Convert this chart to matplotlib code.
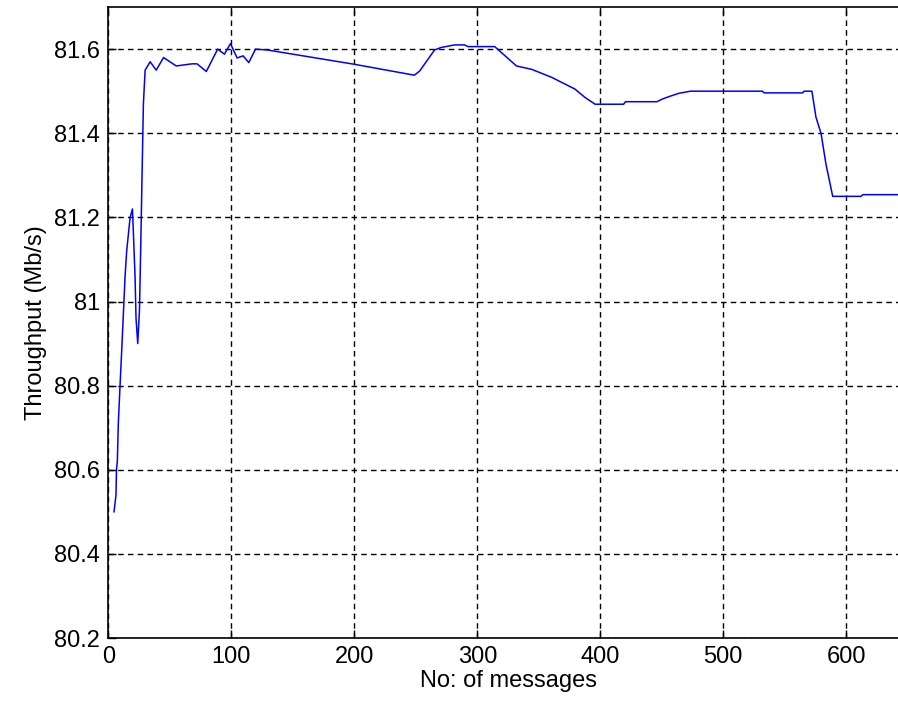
import matplotlib
matplotlib.use("Agg")
import matplotlib.pyplot as plt

plt.rcParams['font.family'] = ['Liberation Sans', 'DejaVu Sans']

# throughput vs number of messages
messages = [4.5, 6.1, 6.5, 7.2, 8.0, 9.4, 10.7, 12.1, 13.5, 14.8, 16.2, 17.6, 19.5,
            20.3, 21.6, 22.4, 23.8, 25.2, 26.3, 27.3, 28.4, 29.8, 33.9, 38.8, 44.8,
            55.1, 67.9, 72.0, 79.6, 88.8, 94.3, 99.2, 104.6, 109.5, 114.1, 119.6,
            129.1, 199.9, 248.8, 253.1, 265.2, 270.6, 281.5, 289.7, 292.4, 314.1,
            331.8, 344.1, 360.4, 379.4, 387.6, 395.8, 418.9, 420.5, 446.1, 450.2,
            455.7, 463.9, 473.3, 531.8, 533.2, 564.5, 565.8, 572.1, 575.4, 579.5,
            583.5, 589.0, 612.1, 613.5, 650.0]
throughput = [80.50, 80.54, 80.60, 80.62, 80.71, 80.80, 80.88, 80.97, 81.06, 81.12,
              81.16, 81.20, 81.22, 81.16, 81.06, 80.96, 80.90, 80.98, 81.14, 81.30,
              81.47, 81.55, 81.57, 81.55, 81.58, 81.56, 81.565, 81.565, 81.547, 81.60,
              81.588, 81.613, 81.579, 81.584, 81.568, 81.60, 81.598, 81.564, 81.538,
              81.548, 81.598, 81.604, 81.61, 81.61, 81.606, 81.606, 81.56, 81.552,
              81.533, 81.505, 81.485, 81.469, 81.469, 81.475, 81.475, 81.481, 81.487,
              81.495, 81.50, 81.50, 81.496, 81.496, 81.50, 81.50, 81.438, 81.40,
              81.327, 81.25, 81.25, 81.254, 81.254]

xticks = [0, 100, 200, 300, 400, 500, 600]
yticks = [80.2, 80.4, 80.6, 80.8, 81.0, 81.2, 81.4, 81.6]
ylabels = ['80.2', '80.4', '80.6', '80.8', '81', '81.2', '81.4', '81.6']

fig = plt.figure(figsize=(8.98, 7.06), dpi=100)
fig.patch.set_facecolor('white')
# right edge sits just past the picture, the reference is cropped there
ax = fig.add_axes([0.1208, 0.0963, 0.890, 0.8937])

ax.plot(messages, throughput, color='#0000ff', lw=1.1)

ax.set_xlim(0, 650)
ax.set_ylim(80.2, 81.7)
ax.set_xticks(xticks)
ax.set_yticks(yticks)
ax.set_yticklabels(ylabels)
ax.grid(True, color='black', linestyle=(0, (4, 3)), lw=1)
ax.tick_params(direction='in', length=6, labelsize=17, top=True, right=True, width=1)
ax.tick_params(axis='x', pad=6)
ax.tick_params(axis='y', pad=6)
for s in ax.spines.values():
    s.set_linewidth(1.2)

ax.set_xlabel("No: of messages", fontsize=17, labelpad=1)
ax.set_ylabel("Throughput (Mb/s)", fontsize=17, labelpad=5)

fig.savefig("out.png", dpi=100)
